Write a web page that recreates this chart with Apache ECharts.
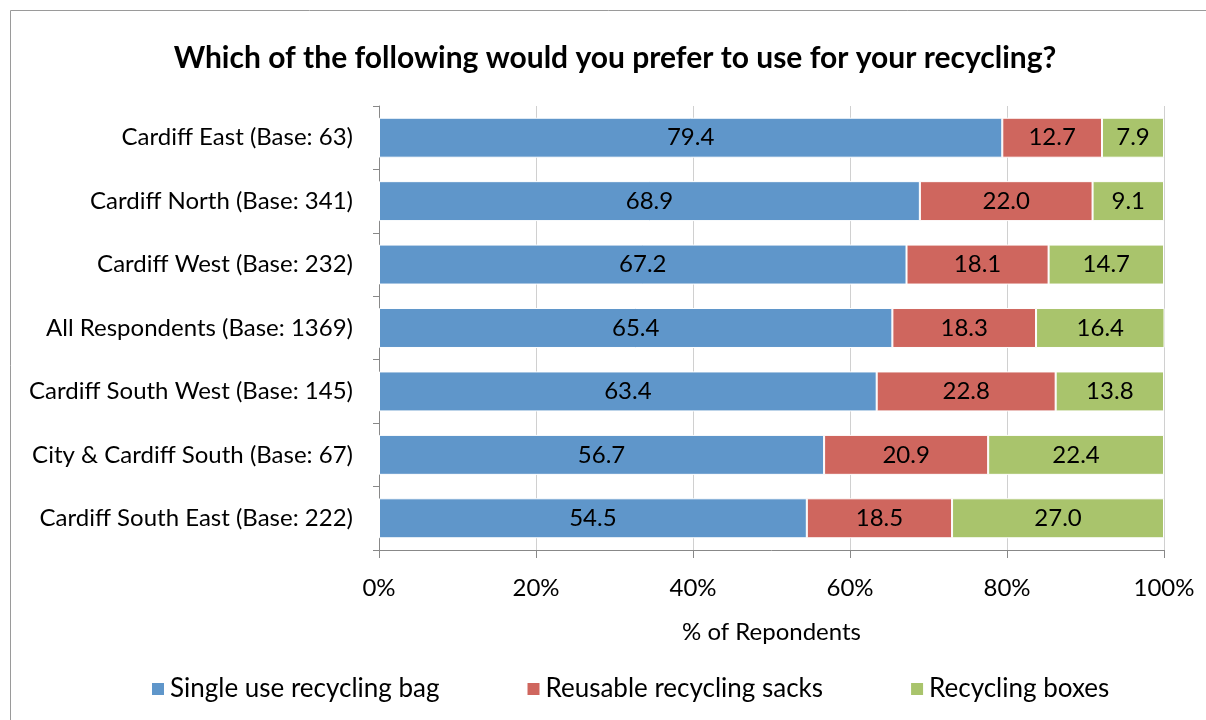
<!DOCTYPE html>
<html>
<head>
<meta charset="utf-8">
<script src="https://cdn.jsdelivr.net/npm/echarts@6/dist/echarts.min.js"></script>
<style>
  html, body { margin: 0; padding: 0; background: #fff; }
  #main { width: 1206px; height: 720px; }
</style>
</head>
<body>
<div id="main"></div>
<script>
var categories = ['Cardiff East (Base: 63)', 'Cardiff North (Base: 341)', 'Cardiff West (Base: 232)',
  'All Respondents (Base: 1369)', 'Cardiff South West (Base: 145)', 'City & Cardiff South (Base: 67)',
  'Cardiff South East (Base: 222)'];
var singleUse = [79.4, 68.9, 67.2, 65.4, 63.4, 56.7, 54.5];
var reusable = [12.7, 22.0, 18.1, 18.3, 22.8, 20.9, 18.5];
var boxes = [7.9, 9.1, 14.7, 16.4, 13.8, 22.4, 27.0];

var font = 'Lato, "Open Sans", sans-serif';
var myChart = echarts.init(document.getElementById('main'));

function bar(name, data, color) {
  return {
    name: name,
    type: 'bar',
    stack: 'all',
    barWidth: '63%',
    data: data,
    itemStyle: { color: color, borderColor: '#fff', borderWidth: 1 },
    label: {
      show: true,
      position: 'inside',
      color: '#000',
      fontFamily: font,
      fontSize: 24,
      formatter: function (p) { return p.value.toFixed(1); }
    }
  };
}

var option = {
  animation: false,
  title: {
    text: 'Which of the following would you prefer to use for your recycling?',
    left: 610,
    textAlign: 'center',
    top: 38,
    textStyle: { fontFamily: font, fontSize: 30, fontWeight: 'bold', color: '#000' }
  },
  graphic: [{
    type: 'rect',
    shape: { x: 10.5, y: 10.5, width: 1200, height: 720 },
    style: { fill: null, stroke: '#9a9a9a', lineWidth: 1 }
  }],
  legend: {
    top: 671,
    left: 145,
    itemWidth: 14,
    itemHeight: 14,
    itemGap: 86,
    icon: 'rect',
    textStyle: { fontFamily: font, fontSize: 26, color: '#000' },
    data: ['Single use recycling bag', 'Reusable recycling sacks', 'Recycling boxes']
  },
  grid: { left: 379, right: 42, top: 106, bottom: 170 },
  xAxis: {
    type: 'value',
    min: 0,
    max: 100,
    interval: 20,
    name: '% of Repondents',
    nameLocation: 'middle',
    nameGap: 70,
    nameTextStyle: { fontFamily: font, fontSize: 24, color: '#000' },
    axisLine: { show: true, lineStyle: { color: '#888', width: 1 } },
    axisTick: { show: true, length: 8, lineStyle: { color: '#888' } },
    axisLabel: { formatter: '{value}%', fontFamily: font, fontSize: 24, color: '#000', margin: 26 },
    splitLine: { show: true, lineStyle: { color: '#d0d0d0', width: 1 } }
  },
  yAxis: {
    type: 'category',
    inverse: true,
    data: categories,
    axisLine: { show: true, lineStyle: { color: '#888', width: 1 } },
    axisTick: { show: true, length: 6, lineStyle: { color: '#888' } },
    axisLabel: { fontFamily: font, fontSize: 24, color: '#000', margin: 26 }
  },
  series: [
    bar('Single use recycling bag', singleUse, '#5f96ca'),
    bar('Reusable recycling sacks', reusable, '#cf665e'),
    bar('Recycling boxes', boxes, '#a9c46c')
  ]
};
myChart.setOption(option);
</script>
</body>
</html>
